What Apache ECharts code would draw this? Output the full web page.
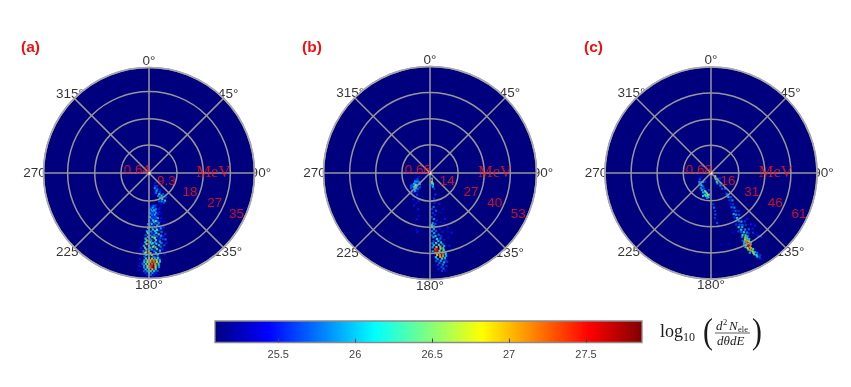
<!DOCTYPE html>
<html>
<head>
<meta charset="utf-8">
<style>
  html, body { margin: 0; padding: 0; background: #fff; }
  #main { width: 851px; height: 387px; }
</style>
<script src="https://cdn.jsdelivr.net/npm/echarts@6/dist/echarts.min.js"></script>
</head>
<body>
<div id="main"></div>
<script>
// angle tick labels, degrees
const angleTicks = [0, 45, 90, 135, 180, 225, 270, 315];

// energy rings of each panel, MeV
const panelNames = ['(a)', '(b)', '(c)'];
const centreLabels = ['0.64', '0.66', '0.68'];
const ringsA = [9.3, 18, 27, 35];
const ringsB = [14, 27, 40, 53];
const ringsC = [16, 31, 46, 61];

// colorbar
const barRange = [25.089, 27.864];
const barTicks = [25.5, 26, 26.5, 27, 27.5];
const jet = ['#00007f', '#0000ff', '#007fff', '#00ffff', '#7fff7f', '#ffff00', '#ff7f00', '#ff0000', '#7f0000'];

// cells: [energy MeV, angle deg, log10 value]
const cellsA = [
  [4.8,156,25.6],[5.4,159,25.9],[6,152,25.7],[6.4,157,26],[7,161,25.8],[7.3,150,25.6],[7.8,154,26.1],[8.2,158,25.9],
  [8.6,151,26.2],[9,156,26],[9.3,148,25.8],[9.7,153,26.2],[10,160,25.7],[10.3,156,25.9],[10.6,150,26.1],[7.2,166,25.4],
  [11,176,25.5],[11,172,25.8],[11,168,25.6],[11,153,25.7],[11.6,178,25.7],[11.6,174,26],[11.6,170,25.6],
  [12.2,177,25.9],[12.2,173,25.6],[12.2,169,25.8],[12.8,179,25.6],[12.8,175,26.1],[12.8,171,25.7],
  [13.4,178,26],[13.4,174,25.7],[13.4,170,25.9],[13.4,166,25.5],[14,180,25.5],[14,176,25.8],[14,172,26.1],[14,168,25.6],
  [14.6,179,26.1],[14.6,175,25.6],[14.6,171,25.8],[15.2,177,26],[15.2,173,25.7],[15.2,169,26],[15.8,180,25.8],[15.8,175,26.2],[15.8,171,25.6],
  [16.4,178,25.7],[16.4,174,26],[16.4,170,25.8],[16.4,167,25.5],[17,181,25.9],[17,177,26.2],[17,173,25.7],[17,169,25.9],
  [17.6,179,26],[17.6,175,25.6],[17.6,171,26.1],[18.2,181,26.2],[18.2,177,25.8],[18.2,173,26],[18.2,169,25.6],
  [18.8,180,25.7],[18.8,176,26.3],[18.8,172,25.8],[18.8,168,26],[19.4,182,26.1],[19.4,178,25.9],[19.4,174,26.1],[19.4,170,25.6],
  [20,181,26.4],[20,177,25.7],[20,173,26.2],[20,168,25.8],[20.6,183,25.7],[20.6,179,26.2],[20.6,175,25.9],[20.6,171,26.3],
  [21.2,181,26],[21.2,177,26.4],[21.2,173,25.8],[21.2,169,26],[21.8,183,26.3],[21.8,179,25.8],[21.8,175,26.1],[21.8,170,25.7],
  [22.4,182,26.6],[22.4,178,26],[22.4,174,26.3],[22.4,168,25.6],[23,183,26.2],[23,179,26.5],[23,175,25.9],[23,171,26],
  [23.6,182,26.7],[23.6,178,26],[23.6,174,26.2],[23.6,170,25.9],[24.2,184,26],[24.2,180,26.3],[24.2,176,25.9],[24.2,172,26.2],
  [24.8,183,26.4],[24.8,179,26.1],[24.8,175,26.5],[24.8,171,25.8],[25.4,182,26.8],[25.4,178,26],[25.4,174,26.3],
  [26,184,25.9],[26,180,26.4],[26,176,26],[26,172,26.2],[26.6,183,26.2],[26.6,179,26.6],[26.6,175,26.1],[26.6,172,25.8],
  [27.2,182,26.1],[27.2,178,26.5],[27.2,174,26.2],[27.8,183,25.8],[27.8,180,26.2],[27.8,177,25.9],[27.8,174,25.7],
  [28.4,182,26.3],[28.4,180,26.7],[28.4,178,26.9],[28.4,176,26.6],[28.4,174,26.2],[29,183,26],[29,181,26.6],[29,179,26.9],[29,177,27],[29,175,26.6],[29,173,26],
  [29.6,183,26.1],[29.6,181,26.7],[29.6,179,27.1],[29.6,177,27.2],[29.6,175,26.8],[29.6,173,26.2],[30.2,184,25.8],[30.2,182,26.3],[30.2,180,26.9],[30.2,178,27.2],[30.2,176,27],[30.2,174,26.4],
  [30.8,183,26],[30.8,181,26.6],[30.8,179,27.3],[30.8,178,27.5],[30.8,176,26.9],[30.8,174,26.1],[31.4,183,25.9],[31.4,181,26.5],[31.4,179,27.2],[31.4,178,27.6],[31.4,176,26.8],[31.4,174,25.9],
  [32,182,26.1],[32,180,26.5],[32,178,26.9],[32,176,26.3],[32.6,183,25.7],[32.6,181,26],[32.6,179,26.4],[32.6,177,26.1],[32.6,175,25.7],
  [33.2,182,25.6],[33.2,180,26],[33.2,178,25.9],[33.2,176,25.5],[33.8,181,25.5],[33.8,179,25.8],[33.8,177,25.5],[34.4,180,25.4],[34.4,178,25.5],
  [3.9,147,25.5],[5.1,149,25.6],[6.8,146,25.5],[8.5,146,25.7],[9.8,145,25.6],[10.9,158,25.5],[11.9,162,25.4],[12.5,164,25.5],[13.9,163,25.4],
  [15.5,165,25.5],[16.9,163,25.4],[18.6,165,25.6],[19.1,166,25.4],[20.9,165,25.6],[21.5,167,25.5],[22.7,166,25.8],[23.9,166,25.5],[24.5,168,25.7],
  [25.7,170,25.6],[26.3,168,25.4],[27.5,169,25.5],[23.3,186,25.4],[25.1,186,25.5],[25.9,187,25.4],[26.9,186,25.6],[28.7,186,25.5],[29.9,186,25.4],[31.1,186,25.5],[32.3,186,25.4],
  [11.3,179,25.4],[12.5,172,26],[13.1,176,25.6],[14.3,170,25.4],[15.5,178,25.5],[16.1,172,26.3],[17.3,179,25.6],[18.5,174,25.6],[19.1,172,26.4],[20.3,179,25.5],
  [21.5,175,26.6],[22.1,171,25.6],[22.7,180,26],[23.3,177,26.3],[24.5,177,26.6],[25.1,181,25.7],[25.7,176,25.6],[26.3,182,26.9],[27.5,180,25.6],[28.1,176,25.8],
  [33.5,184,25.4],[34,175,25.4],[34.7,182,25.3],[34.7,176,25.3]
];
const cellsB = [
  [3,163,26.6],[4,167,26.8],[5,168,26.6],[5.5,165,26.2],[6,167,26.4],[7,168,26],[8,166,25.6],[6,172,25.7],[3.5,172,25.6],
  [6,250,25.5],[7,243,25.7],[7.5,236,25.9],[8,230,25.6],[8,248,25.4],[8.5,240,26],[9,226,26.2],[9,234,25.8],[9.5,222,25.6],
  [10,228,26.3],[10,218,25.8],[10.5,236,25.5],[11,224,25.9],[11,214,25.5],[12,220,25.7],[12.5,228,25.5],[13,210,25.4],[14,216,25.5],[15,202,25.5],
  [14,205,25.4],[19,198,25.5],[24,196,25.5],[29,193,25.4],[30,192,25.5],
  [11,166,25.6],[13,171,25.6],[14,176,25.7],[15,172,25.5],[16,163,25.5],[17,174,25.8],[18,177,25.6],[19,171,25.7],[19,160,25.4],[20,176,25.6],
  [21,173,25.5],[22,178,25.7],[23,175,25.9],[24,172,25.5],[24,162,25.5],[25,177,26],[25.5,174,25.7],[26,178,26.2],[26.5,176,25.9],[27,173,25.6],[27,178,26.3],
  [28,176,26],[28,170,25.5],[29,178,25.9],[29,174,25.7],[30,176,26],[30,168,25.5],[30.5,163,25.4],[31,178,25.7],[31,172,25.8],[31.5,175,26.1],
  [32,170,25.6],[32,177,26],[33,174,26.2],[33,171,25.8],[34,177,25.7],[34,173,26.1],[34,168,25.5],[35,175,26.3],[35,171,26.2],[35,178,25.9],
  [36,177,26.2],[36,173,26.4],[36,170,25.9],[37,175,26.7],[37,172,26.6],[37,178,26],[37,169,26],[38,176,27.2],[38,175,27.5],[38,172,26.8],[38,170,26.2],
  [39,176,27.4],[39,175,27.6],[39,173,26.7],[39,170,26.5],[39,178,26],[40,176,27.1],[40,174,26.6],[40,171,26.7],[40,169,26.1],
  [41,175,26.9],[41,173,27.1],[41,171,27.2],[41,169,26.2],[42,176,26.2],[42,173,26.9],[42,171,27],[42,169,26],[43,175,26],[43,172,26.4],[43,170,26],
  [44,176,25.7],[44,173,26],[44,170,25.7],[45,174,25.8],[45,171,26],[45,169,25.6],[46,175,25.6],[46,172,25.9],[47,173,25.7],[47,170,25.6],[48,172,25.8],[48,175,25.5],[49,171,25.5],[49,173,25.6],
  [7,228,26],[7.5,222,25.9],[8.2,238,25.8],[8.8,216,25.7],[9.3,230,26.4],[9.6,236,26],[10.2,224,26.2],[10.6,230,26.1],[11.2,236,25.8],[11.5,220,26],[12,232,25.7],[13.2,222,25.6],
  [12.5,211,25.6],[15.5,212,25.5],[16.5,205,25.4],[18,206,25.5],[22,195,25.4],[26,165,25.4],[28.5,162,25.5],[31.5,160,25.5],[33.5,164,25.4],[37.5,165,25.5],[25,168,25.4],[20.5,165,25.4]
];
const cellsC = [
  [3,128,26.5],[3.5,136,26.8],[4.5,142,26.2],[5,132,26],[6,146,26.4],[7,148,26],[6,122,25.6],[8,137,25.7],[9,143,25.9],[10,134,25.6],[11,145,25.7],[12,138,25.8],
  [6,215,25.6],[7,222,25.9],[8,228,25.7],[9,210,25.8],[9,218,26.2],[10,204,25.7],[11,208,26],[11,198,26.4],[12,191,26.6],[12,202,26.1],[13,196,26.3],[13,188,26.7],[13.5,192,26.2],
  [14,199,26.1],[14,186,26.5],[14.5,189,25.9],[10,186,25.6],[13,184,25.5],[7.5,240,25.7],[6.5,246,25.5],[8.5,232,25.9],[9.5,226,25.8],[10.5,214,25.9],[11.5,195,26.2],[12.5,186,26.4],
  [15,143,25.8],[16,141,25.6],[17,144,26],[18,141,25.7],[19,146,25.6],[20,142,25.9],[21,148,25.5],
  [18,176,25.6],[20,175,25.8],[22,174,25.6],[24,174,25.7],[26,175,25.6],[29,173,25.7],[31,172,25.6],
  [22,145,25.6],[23,149,25.8],[24,146,25.9],[25,150,25.5],[26,147,25.7],[27,151,26],[27,144,25.6],[28,149,25.9],[29,146,25.7],[29,152,25.6],
  [30,150,26.1],[31,153,25.7],[31,147,25.8],[32,150,25.9],[33,154,25.6],[33,148,26],[34,151,25.7],[34,145,25.6],[35,153,26.1],[35,149,25.8],
  [36,150,26],[36,146,25.6],[37,152,26.2],[37,155,25.6],[38,149,25.9],[38,153,25.7],[39,151,26.2],[39,146,25.7],[40,153,26.3],[40,149,25.9],[40,143,25.5],
  [41,154,25.9],[41,151,26.4],[41,148,25.6],[42,152,26.6],[42,150,26],[42,145,25.6],[43,153,26.8],[43,151,26.3],[43,155,25.7],[44,152,27],[44,154,26.4],[44,150,26.1],
  [45,153,27.1],[45,151,26.7],[45,155,26],[45,143,25.5],[46,152,27.4],[46,154,26.7],[46,150,26.2],[47,153,27.6],[47,151,27],[47,155,26.1],[48,153,27.7],[48,152,27.1],[48,154,26.7],
  [49,152,27],[49,154,26.5],[50,153,26.9],[50,151,26.2],[51,152,26.7],[51,154,26],[52,152,26.8],[52,151,26],[53,152,26.4],[53,150,25.8],[54,151,26.3],[55,151,26.1],[55,149,25.6],[56,150,25.7],[57,150,25.5],
  [33.5,142,25.5],[37.5,142,25.5],[39.5,140,25.5],[43.5,143,25.4],[46.5,142,25.6],[36.5,160,25.4],[41.5,172,25.4],[42,166,25.4],[30.5,157,25.4]
];

const panels = [
  { name: panelNames[0], titleLeft: 16, centre: [149, 173], radius: 105.5, rings: ringsA, cells: cellsA, low: centreLabels[0] },
  { name: panelNames[1], titleLeft: 297, centre: [430, 173], radius: 106.5, rings: ringsB, cells: cellsB, low: centreLabels[1] },
  { name: panelNames[2], titleLeft: 579, centre: [711, 173], radius: 106, rings: ringsC, cells: cellsC, low: centreLabels[2] }
];

const axisGrey = '#969696';
const red = '#ff1414';
const sansFont = '"Liberation Sans", Arial, sans-serif';
const serifFont = '"Liberation Serif", "Times New Roman", serif';

const polar = [];
const angleAxis = [];
const radiusAxis = [];
const series = [];
const cellSeriesIndex = [];

panels.forEach(function (p, i) {
  const maxE = p.rings[p.rings.length - 1];
  polar.push({ center: p.centre, radius: p.radius });
  angleAxis.push({
    polarIndex: i, type: 'value', min: 0, max: 360, interval: 45, startAngle: 90, z: 4,
    axisLine: { show: true, lineStyle: { color: '#a8a8a8', width: 1.6 } },
    axisTick: { show: false },
    axisLabel: { show: false },
    splitLine: { show: true, lineStyle: { color: axisGrey, width: 1.5 } }
  });
  radiusAxis.push({
    polarIndex: i, type: 'value', min: 0, max: maxE, z: 4,
    axisLine: { show: false },
    axisTick: { show: false, customValues: p.rings },
    axisLabel: { show: false, customValues: p.rings },
    splitLine: { show: true, lineStyle: { color: axisGrey, width: 1.5 } }
  });

  // angle labels sit under the disc, as in the original
  series.push({
    type: 'scatter', coordinateSystem: 'polar', polarIndex: i, z: 1, clip: false, silent: true,
    symbolSize: 0,
    data: angleTicks.map(function (a) { return [maxE * 1.06, a, a + '°']; }),
    label: {
      show: true, position: 'inside', color: '#000', fontFamily: sansFont, fontSize: 13.5,
      formatter: function (d) { return d.data[2]; }
    }
  });
  series.push({
    type: 'custom', coordinateSystem: 'polar', polarIndex: i, z: 2, silent: true,
    data: [[maxE, 0]],
    renderItem: function (params) {
      const c = params.coordSys;
      return { type: 'circle', shape: { cx: c.cx, cy: c.cy, r: c.r }, style: { fill: jet[0] } };
    }
  });
  cellSeriesIndex.push(series.length);
  series.push({
    type: 'scatter', coordinateSystem: 'polar', polarIndex: i, z: 3, silent: true,
    symbol: 'rect', symbolSize: 2.2,
    data: p.cells
  });
  // red energy labels
  const energyLabels = p.rings.map(function (e) {
    return { value: [e - maxE * 0.085, 115], label: { formatter: String(e) } };
  });
  energyLabels.push({ value: [maxE * 0.118, 284], label: { formatter: p.low } });
  energyLabels.push({ value: [maxE * 0.61, 90], label: { formatter: 'MeV', fontFamily: serifFont, fontSize: 16.5 } });
  energyLabels.push({ value: [0, 0], symbolSize: 3, itemStyle: { color: '#fff' }, label: { show: false } });
  series.push({
    type: 'scatter', coordinateSystem: 'polar', polarIndex: i, z: 5, clip: false, silent: true,
    symbolSize: 0,
    data: energyLabels,
    label: { show: true, position: 'inside', color: red, fontFamily: sansFont, fontSize: 13.5 }
  });
});

// colorbar
series.push({
  type: 'custom', coordinateSystem: 'cartesian2d', xAxisIndex: 0, yAxisIndex: 0, z: 2, silent: true,
  data: [[barRange[0], barRange[1]]],
  renderItem: function (params, api) {
    const a = api.coord([api.value(0), 0]);
    const b = api.coord([api.value(1), 1]);
    return {
      type: 'rect',
      shape: { x: a[0], y: b[1], width: b[0] - a[0], height: a[1] - b[1] },
      style: {
        stroke: '#8a8a8a', lineWidth: 1.3,
        fill: new echarts.graphic.LinearGradient(0, 0, 1, 0, jet.map(function (c, k) {
          return { offset: k / (jet.length - 1), color: c };
        }))
      }
    };
  }
});

const mathFill = '#1a1a1a';
const chart = echarts.init(document.getElementById('main'), null, { renderer: 'canvas' });
chart.setOption({
  animation: false,
  backgroundColor: '#fff',
  title: panels.map(function (p) {
    return {
      text: p.name, left: p.titleLeft, top: 35,
      textStyle: { color: '#ee1111', fontFamily: sansFont, fontSize: 15.5, fontWeight: 'bold' }
    };
  }),
  polar: polar,
  angleAxis: angleAxis,
  radiusAxis: radiusAxis,
  grid: { left: 215, top: 321, width: 427, height: 21.5, containLabel: false },
  xAxis: {
    type: 'value', min: barRange[0], max: barRange[1], z: 4,
    splitLine: { show: false },
    axisLine: { show: false },
    axisTick: { show: true, inside: true, length: 4, customValues: barTicks, lineStyle: { color: '#444' } },
    axisLabel: {
      customValues: barTicks, color: '#444', fontFamily: sansFont, fontSize: 11, margin: 7,
      formatter: function (v) { return String(v); }
    }
  },
  yAxis: { type: 'value', min: 0, max: 1, show: false },
  visualMap: {
    show: false, type: 'continuous', dimension: 2, min: barRange[0], max: barRange[1],
    seriesIndex: cellSeriesIndex, inRange: { color: jet }
  },
  graphic: [
    { type: 'text', x: 660, y: 323, style: { text: 'log', font: '18px ' + serifFont, fill: mathFill } },
    { type: 'text', x: 683, y: 332, style: { text: '10', font: '12px ' + serifFont, fill: mathFill } },
    { type: 'text', x: 703, y: 316, scaleX: 0.85, style: { text: '(', font: '35px ' + serifFont, fill: mathFill } },
    { type: 'text', x: 752, y: 316, scaleX: 0.85, style: { text: ')', font: '35px ' + serifFont, fill: mathFill } },
    { type: 'text', x: 716, y: 320, style: { text: 'd', font: 'italic 13px ' + serifFont, fill: mathFill } },
    { type: 'text', x: 723, y: 318, style: { text: '2', font: '8.5px ' + serifFont, fill: mathFill } },
    { type: 'text', x: 729, y: 320, style: { text: 'N', font: 'italic 13px ' + serifFont, fill: mathFill } },
    { type: 'text', x: 738, y: 325, style: { text: 'ele', font: '8.5px ' + serifFont, fill: mathFill } },
    { type: 'line', shape: { x1: 715, y1: 333, x2: 750, y2: 333 }, style: { stroke: mathFill, lineWidth: 0.7 } },
    { type: 'text', x: 717, y: 335, style: { text: 'dθdE', font: 'italic 13px ' + serifFont, fill: mathFill } }
  ],
  series: series
});
</script>
</body>
</html>
